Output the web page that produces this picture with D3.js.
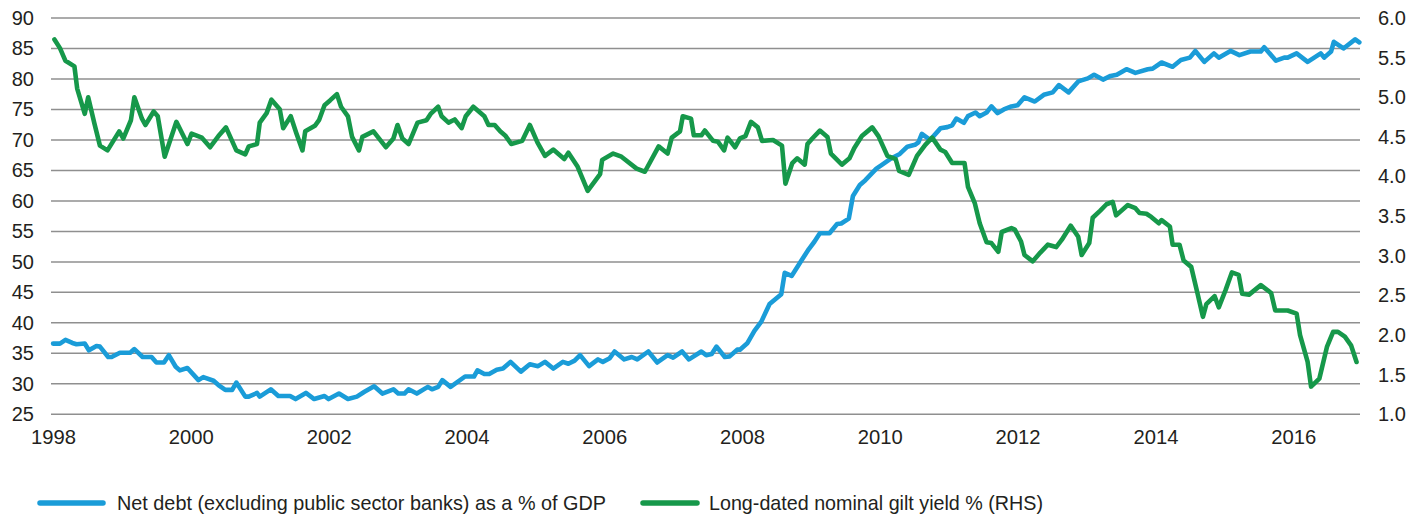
<!DOCTYPE html>
<html>
<head>
<meta charset="utf-8">
<script src="https://cdn.jsdelivr.net/npm/d3@7"></script>
<style>
  html, body { margin: 0; padding: 0; background: #ffffff; }
  svg { display: block; }
</style>
</head>
<body>
<svg id="chart" width="1425" height="518"></svg>
<script>
// ---------------- DATA ----------------
const leftTicks = [25, 30, 35, 40, 45, 50, 55, 60, 65, 70, 75, 80, 85, 90];
const rightTicks = [1.0, 1.5, 2.0, 2.5, 3.0, 3.5, 4.0, 4.5, 5.0, 5.5, 6.0];
const yearTicks = [1998, 2000, 2002, 2004, 2006, 2008, 2010, 2012, 2014, 2016];

const seriesNames = [
  "Net debt (excluding public sector banks) as a % of GDP",
  "Long-dated nominal gilt yield % (RHS)"
];

// Net debt (% of GDP), left axis
const debtDates = [
  1998.00, 1998.10, 1998.18, 1998.28, 1998.34, 1998.46, 1998.52, 1998.63, 1998.68, 1998.80,
  1998.85, 1998.97, 1999.12, 1999.18, 1999.30, 1999.43, 1999.50, 1999.61, 1999.68, 1999.78,
  1999.84, 1999.95, 2000.11, 2000.18, 2000.33, 2000.40, 2000.50, 2000.60, 2000.66, 2000.79,
  2000.84, 2000.96, 2001.00, 2001.16, 2001.27, 2001.44, 2001.52, 2001.67, 2001.79, 2001.94,
  2002.00, 2002.15, 2002.28, 2002.41, 2002.52, 2002.66, 2002.78, 2002.94, 2003.01, 2003.10,
  2003.16, 2003.28, 2003.44, 2003.50, 2003.59, 2003.65, 2003.77, 2003.98, 2004.11, 2004.16,
  2004.26, 2004.33, 2004.44, 2004.53, 2004.64, 2004.79, 2004.92, 2005.04, 2005.14, 2005.26,
  2005.40, 2005.48, 2005.57, 2005.65, 2005.78, 2005.91, 2005.98, 2006.08, 2006.15, 2006.29,
  2006.40, 2006.48, 2006.64, 2006.77, 2006.92, 2007.00, 2007.13, 2007.23, 2007.41, 2007.48,
  2007.56, 2007.63, 2007.75, 2007.82, 2007.93, 2007.97, 2008.08, 2008.18, 2008.28, 2008.40,
  2008.57, 2008.62, 2008.72, 2008.86, 2008.97, 2009.05, 2009.13, 2009.27, 2009.38, 2009.44,
  2009.55, 2009.61, 2009.71, 2009.79, 2009.95, 2010.03, 2010.17, 2010.29, 2010.40, 2010.51,
  2010.56, 2010.61, 2010.73, 2010.88, 2010.98, 2011.05, 2011.11, 2011.22, 2011.28, 2011.39,
  2011.45, 2011.55, 2011.62, 2011.71, 2011.80, 2011.91, 2012.00, 2012.10, 2012.25, 2012.38,
  2012.51, 2012.60, 2012.74, 2012.88, 2013.02, 2013.11, 2013.24, 2013.35, 2013.44, 2013.58,
  2013.71, 2013.89, 2013.96, 2014.09, 2014.25, 2014.37, 2014.50, 2014.58, 2014.71, 2014.85,
  2014.92, 2015.09, 2015.22, 2015.38, 2015.53, 2015.58, 2015.75, 2015.87, 2015.92, 2016.05,
  2016.21, 2016.40, 2016.45, 2016.55, 2016.59, 2016.73, 2016.90, 2016.96
];
const debtValues = [
  36.6, 36.6, 37.2, 36.7, 36.5, 36.6, 35.5, 36.2, 36.1, 34.4,
  34.4, 35.1, 35.1, 35.7, 34.4, 34.4, 33.5, 33.5, 34.7, 32.8,
  32.2, 32.6, 30.6, 31.1, 30.5, 29.8, 29.0, 29.0, 30.2, 27.9,
  27.9, 28.5, 27.9, 29.1, 28.0, 28.0, 27.5, 28.5, 27.5, 28.0,
  27.5, 28.4, 27.5, 27.9, 28.7, 29.6, 28.4, 29.1, 28.4, 28.4,
  29.1, 28.4, 29.5, 29.1, 29.5, 30.6, 29.5, 31.2, 31.2, 32.2,
  31.6, 31.6, 32.3, 32.5, 33.6, 32.0, 33.2, 32.9, 33.6, 32.5,
  33.6, 33.3, 33.8, 34.7, 32.9, 34.0, 33.6, 34.2, 35.3, 34.0,
  34.4, 34.0, 35.3, 33.5, 34.7, 34.3, 35.3, 34.0, 35.3, 34.7,
  34.9, 36.1, 34.4, 34.5, 35.6, 35.6, 36.7, 38.7, 40.2, 43.1,
  44.7, 48.2, 47.7, 50.2, 52.1, 53.3, 54.7, 54.7, 56.2, 56.3,
  57.1, 60.8, 62.6, 63.4, 65.3, 65.9, 67.0, 67.7, 68.9, 69.2,
  69.6, 71.0, 70.0, 71.9, 72.1, 72.4, 73.5, 72.8, 73.9, 74.5,
  73.9, 74.5, 75.5, 74.4, 75.0, 75.5, 75.7, 77.0, 76.3, 77.4,
  77.8, 79.0, 77.8, 79.6, 80.1, 80.7, 79.9, 80.5, 80.7, 81.6,
  81.0, 81.6, 81.7, 82.7, 82.0, 83.1, 83.5, 84.6, 82.8, 84.2,
  83.5, 84.6, 83.9, 84.5, 84.5, 85.2, 83.0, 83.5, 83.5, 84.2,
  82.8, 84.2, 83.5, 84.5, 86.1, 85.0, 86.5, 86.0
];

// Long-dated nominal gilt yield (%), right axis
const giltDates = [
  1998.02, 1998.10, 1998.18, 1998.31, 1998.35, 1998.46, 1998.51, 1998.60, 1998.68, 1998.79,
  1998.96, 1999.02, 1999.13, 1999.18, 1999.29, 1999.34, 1999.46, 1999.52, 1999.62, 1999.79,
  1999.95, 2000.01, 2000.16, 2000.28, 2000.40, 2000.51, 2000.66, 2000.79, 2000.84, 2000.96,
  2001.00, 2001.10, 2001.17, 2001.29, 2001.34, 2001.45, 2001.53, 2001.62, 2001.66, 2001.80,
  2001.86, 2001.94, 2002.02, 2002.12, 2002.18, 2002.28, 2002.34, 2002.44, 2002.49, 2002.65,
  2002.83, 2002.94, 2003.00, 2003.07, 2003.16, 2003.29, 2003.42, 2003.48, 2003.59, 2003.64,
  2003.74, 2003.83, 2003.93, 2003.99, 2004.10, 2004.26, 2004.32, 2004.41, 2004.49, 2004.57,
  2004.65, 2004.81, 2004.92, 2005.03, 2005.14, 2005.26, 2005.42, 2005.48, 2005.61, 2005.76,
  2005.94, 2005.97, 2006.13, 2006.25, 2006.47, 2006.59, 2006.79, 2006.92, 2006.98, 2007.10,
  2007.14, 2007.26, 2007.30, 2007.41, 2007.46, 2007.58, 2007.65, 2007.74, 2007.79, 2007.90,
  2007.97, 2008.05, 2008.13, 2008.23, 2008.29, 2008.45, 2008.58, 2008.63, 2008.73, 2008.80,
  2008.91, 2008.95, 2009.02, 2009.13, 2009.24, 2009.29, 2009.45, 2009.56, 2009.63, 2009.74,
  2009.89, 2009.98, 2010.11, 2010.23, 2010.28, 2010.42, 2010.54, 2010.66, 2010.76, 2010.88,
  2010.95, 2011.05, 2011.23, 2011.28, 2011.38, 2011.45, 2011.55, 2011.62, 2011.72, 2011.77,
  2011.91, 2011.96, 2012.05, 2012.10, 2012.22, 2012.33, 2012.44, 2012.56, 2012.64, 2012.77,
  2012.88, 2012.93, 2013.04, 2013.09, 2013.20, 2013.29, 2013.38, 2013.43, 2013.60, 2013.71,
  2013.77, 2013.87, 2013.94, 2014.05, 2014.09, 2014.21, 2014.25, 2014.35, 2014.41, 2014.52,
  2014.61, 2014.69, 2014.74, 2014.86, 2014.92, 2015.02, 2015.11, 2015.21, 2015.26, 2015.36,
  2015.53, 2015.68, 2015.74, 2015.92, 2016.05, 2016.10, 2016.21, 2016.26, 2016.38, 2016.49,
  2016.58, 2016.65, 2016.75, 2016.84, 2016.92
];
const giltValues = [
  5.73, 5.62, 5.46, 5.39, 5.11, 4.79, 5.00, 4.67, 4.39, 4.33,
  4.57, 4.48, 4.71, 5.00, 4.73, 4.65, 4.82, 4.76, 4.25, 4.69,
  4.41, 4.54, 4.49, 4.37, 4.51, 4.62, 4.33, 4.28, 4.38, 4.41,
  4.68, 4.80, 4.97, 4.85, 4.61, 4.76, 4.55, 4.33, 4.57, 4.64,
  4.71, 4.90, 4.96, 5.04, 4.88, 4.76, 4.50, 4.33, 4.50, 4.57,
  4.37, 4.48, 4.65, 4.48, 4.41, 4.68, 4.71, 4.79, 4.88, 4.76,
  4.68, 4.72, 4.61, 4.76, 4.88, 4.76, 4.65, 4.65, 4.57, 4.51,
  4.41, 4.45, 4.65, 4.43, 4.26, 4.34, 4.22, 4.30, 4.13, 3.82,
  4.03, 4.21, 4.29, 4.25, 4.10, 4.06, 4.38, 4.29, 4.49, 4.57,
  4.76, 4.73, 4.52, 4.52, 4.58, 4.45, 4.44, 4.33, 4.49, 4.37,
  4.48, 4.51, 4.69, 4.62, 4.45, 4.46, 4.39, 3.91, 4.17, 4.23,
  4.15, 4.41, 4.48, 4.58, 4.50, 4.29, 4.15, 4.23, 4.36, 4.51,
  4.62, 4.51, 4.26, 4.22, 4.07, 4.02, 4.26, 4.40, 4.49, 4.34,
  4.31, 4.17, 4.17, 3.87, 3.66, 3.41, 3.17, 3.16, 3.05, 3.30,
  3.35, 3.33, 3.18, 3.01, 2.93, 3.04, 3.14, 3.11, 3.20, 3.38,
  3.24, 3.01, 3.16, 3.48, 3.57, 3.65, 3.68, 3.51, 3.64, 3.60,
  3.54, 3.53, 3.49, 3.41, 3.45, 3.37, 3.14, 3.14, 2.94, 2.86,
  2.53, 2.23, 2.39, 2.49, 2.35, 2.57, 2.79, 2.76, 2.52, 2.51,
  2.63, 2.53, 2.31, 2.31, 2.27, 2.00, 1.66, 1.35, 1.45, 1.85,
  2.04, 2.04, 1.98, 1.87, 1.66
];

const colors = { debt: "#1a9cd8", gilt: "#16984a", grid: "#8f8f8f", text: "#231f20" };

// ---------------- CHART ----------------
const svg = d3.select("#chart");
const plot = { left: 51, right: 1360, top: 18, bottom: 414.3 };

const x = d3.scaleLinear().domain([1997.97, 2016.97]).range([plot.left, plot.right]);
const yL = d3.scaleLinear().domain([25, 90]).range([plot.bottom, plot.top]);
const yR = d3.scaleLinear().domain([1, 6]).range([plot.bottom, plot.top]);

const numFont = "'Liberation Sans', Arial, Helvetica, sans-serif";

// gridlines (left ticks)
svg.append("g")
  .selectAll("line")
  .data(leftTicks)
  .join("line")
  .attr("x1", plot.left).attr("x2", plot.right)
  .attr("y1", d => yL(d)).attr("y2", d => yL(d))
  .attr("stroke", colors.grid)
  .attr("stroke-width", 1.5);

// left axis
const leftAxis = d3.axisLeft(yL).tickValues(leftTicks).tickSize(0).tickPadding(0).tickFormat(d3.format("d"));
const gL = svg.append("g").attr("transform", "translate(34,0)").call(leftAxis);
gL.select(".domain").remove();
gL.selectAll("text")
  .attr("font-family", numFont).attr("font-size", 20).attr("fill", colors.text);

// right axis
const rightAxis = d3.axisRight(yR).tickValues(rightTicks).tickSize(0).tickPadding(0).tickFormat(d3.format(".1f"));
const gR = svg.append("g").attr("transform", "translate(1378,0)").call(rightAxis);
gR.select(".domain").remove();
gR.selectAll("text")
  .attr("font-family", numFont).attr("font-size", 20).attr("fill", colors.text);

// bottom axis (condensed-looking year labels)
const bottomAxis = d3.axisBottom(x).tickValues(yearTicks).tickSize(0).tickPadding(0).tickFormat(d3.format("d"));
const gB = svg.append("g").attr("transform", "translate(0,429)").call(bottomAxis);
gB.select(".domain").remove();
gB.selectAll("text")
  .attr("font-family", numFont).attr("font-size", 21).attr("fill", colors.text)
  .attr("textLength", 45).attr("lengthAdjust", "spacingAndGlyphs");

// lines
const debtData = debtDates.map((d, i) => ({ t: d, v: debtValues[i] }));
const giltData = giltDates.map((d, i) => ({ t: d, v: giltValues[i] }));

const lineL = d3.line().x(d => x(d.t)).y(d => yL(d.v));
const lineR = d3.line().x(d => x(d.t)).y(d => yR(d.v));

svg.append("path")
  .datum(debtData)
  .attr("d", lineL)
  .attr("fill", "none")
  .attr("stroke", colors.debt)
  .attr("stroke-width", 4.6)
  .attr("stroke-linejoin", "round")
  .attr("stroke-linecap", "round");

svg.append("path")
  .datum(giltData)
  .attr("d", lineR)
  .attr("fill", "none")
  .attr("stroke", colors.gilt)
  .attr("stroke-width", 4.6)
  .attr("stroke-linejoin", "round")
  .attr("stroke-linecap", "round");

// legend
const legendItems = [
  { name: seriesNames[0], color: colors.debt, x0: 40, x1: 103, tx: 117, len: 489 },
  { name: seriesNames[1], color: colors.gilt, x0: 643, x1: 697, tx: 709, len: 334 }
];
const lg = svg.append("g");
legendItems.forEach(it => {
  lg.append("line")
    .attr("x1", it.x0).attr("x2", it.x1)
    .attr("y1", 503).attr("y2", 503)
    .attr("stroke", it.color)
    .attr("stroke-width", 5.5)
    .attr("stroke-linecap", "round");
  lg.append("text")
    .attr("x", it.tx).attr("y", 503)
    .attr("dy", "0.35em")
    .attr("font-family", numFont)
    .attr("font-size", 21)
    .attr("fill", colors.text)
    .attr("textLength", it.len)
    .attr("lengthAdjust", "spacingAndGlyphs")
    .text(it.name);
});
</script>
</body>
</html>
